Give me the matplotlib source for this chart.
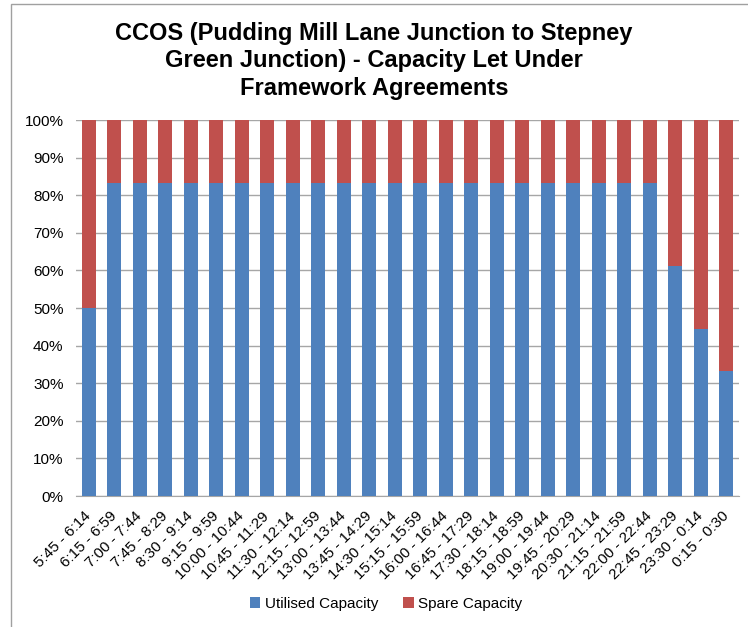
import matplotlib.pyplot as plt
from matplotlib.patches import Rectangle
from matplotlib.ticker import PercentFormatter

plt.rcParams['font.family'] = ['Liberation Sans', 'DejaVu Sans']

slots = ["5:45 - 6:14", "6:15 - 6:59", "7:00 - 7:44", "7:45 - 8:29", "8:30 - 9:14",
         "9:15 - 9:59", "10:00 - 10:44", "10:45 - 11:29", "11:30 - 12:14",
         "12:15 - 12:59", "13:00 - 13:44", "13:45 - 14:29", "14:30 - 15:14",
         "15:15 - 15:59", "16:00 - 16:44", "16:45 - 17:29", "17:30 - 18:14",
         "18:15 - 18:59", "19:00 - 19:44", "19:45 - 20:29", "20:30 - 21:14",
         "21:15 - 21:59", "22:00 - 22:44", "22:45 - 23:29", "23:30 - 0:14",
         "0:15 - 0:30"]
utilised = [50.0] + [83.33] * 22 + [61.1, 44.4, 33.3]
spare = [100 - u for u in utilised]

blue = "#4F81BD"
red = "#C0504D"

fig = plt.figure(figsize=(7.48, 6.27), dpi=100)
# outer chart frame
fig.patches.append(Rectangle((11 / 748, -0.05), 1.0, 1 - 4 / 627 + 0.05,
                             transform=fig.transFigure, fill=False,
                             edgecolor="#a0a0a0", linewidth=1.0))

ax = fig.add_axes([76 / 748, 1 - 496 / 627, (739 - 76) / 748, (496 - 120) / 627])
x = range(len(slots))
ax.bar(x, utilised, width=0.56, color=blue, label="Utilised Capacity", zorder=3)
ax.bar(x, spare, width=0.56, bottom=utilised, color=red, label="Spare Capacity", zorder=3)

ax.set_xlim(-0.5, len(slots) - 0.5)
ax.set_ylim(0, 100)
ax.set_yticks(range(0, 101, 10))
ax.yaxis.set_major_formatter(PercentFormatter(decimals=0))
ax.grid(axis="y", color="#a6a6a6", linewidth=1.0, zorder=0)
for s in ["top", "right", "left"]:
    ax.spines[s].set_visible(False)
ax.spines["bottom"].set_color("#a6a6a6")
ax.tick_params(axis="y", length=0, labelsize=11, pad=9)
ax.tick_params(axis="x", length=0, labelsize=11, pad=13)
ax.set_xticks(list(x))
ax.set_xticklabels(slots, rotation=45, ha="right", va="center", rotation_mode="anchor")

fig.text(0.5, 1 - 61 / 627,
         "CCOS (Pudding Mill Lane Junction to Stepney\nGreen Junction) - Capacity Let Under\nFramework Agreements",
         fontsize=17, fontweight="bold", ha="center", va="center", linespacing=1.24)

fig.legend(loc="center", bbox_to_anchor=(386 / 748, 1 - 604 / 627), ncol=2, frameon=False,
           fontsize=11, handlelength=0.7, handleheight=0.7, handletextpad=0.3,
           columnspacing=1.6)

fig.savefig("out.png", dpi=100)
